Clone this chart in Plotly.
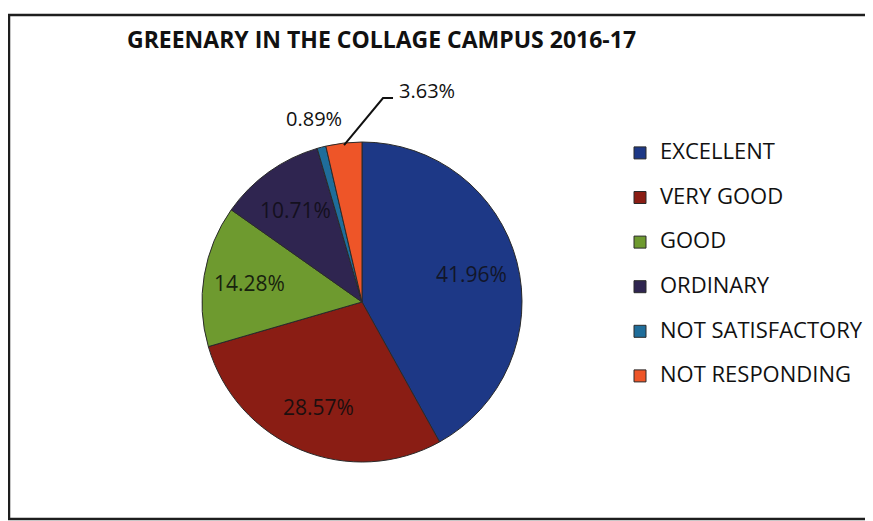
import math
import plotly.graph_objects as go

categories = ["EXCELLENT", "VERY GOOD", "GOOD", "ORDINARY", "NOT SATISFACTORY", "NOT RESPONDING"]
values = [41.96, 28.57, 14.28, 10.71, 0.89, 3.63]
colors = ["#1d3886", "#8a1d14", "#6e9a2f", "#2f2550", "#1f6d9a", "#ee5528"]
title_text = "GREENARY IN THE COLLAGE CAMPUS 2016-17"

W, H = 873, 521
# pie geometry in figure pixels (page has an 8px body margin)
cx, cy, r = 354, 294, 160

legend_labels = [f"<span style='font-size:22px'>{c}</span><br> " for c in categories]
slice_text = [f"{v:.2f}%" for v in values]
inside_colors = ["#121629", "#1c0f0f", "#18220e", "#14101e"]

fig = go.Figure(go.Pie(
    labels=legend_labels,
    values=values,
    textinfo="none",
    marker=dict(colors=colors, line=dict(color="#2a2a2a", width=1)),
    sort=False,
    direction="clockwise",
    rotation=0,
    domain=dict(x=[(cx - r) / W, (cx + r) / W], y=[(H - cy - r) / H, (H - cy + r) / H]),
    hoverinfo="skip",
))

total = sum(values)
def slice_point(i, rad):
    frac = (sum(values[:i]) + values[i] / 2) / total
    th = 2 * math.pi * frac
    return cx + rad * math.sin(th), cy - rad * math.cos(th)

def to_paper(px, py):
    return px / W, 1 - py / H

annotations = []
shapes = []

# data labels inside the four large slices, at ~0.71 of the radius on the mid-angle
for i in range(4):
    px, py = slice_point(i, r * 0.71)
    x_, y_ = to_paper(px, py)
    annotations.append(dict(x=x_, y=y_, xref="paper", yref="paper", text=slice_text[i],
                            showarrow=False, xanchor="center", yanchor="middle",
                            font=dict(family="Open Sans", size=21, color=inside_colors[i])))

# NOT SATISFACTORY: label placed radially outside
lx, ly = slice_point(4, r + 30)
x_, y_ = to_paper(lx, ly)
annotations.append(dict(x=x_, y=y_, xref="paper", yref="paper", text=slice_text[4],
                        showarrow=False, xanchor="center", yanchor="middle",
                        font=dict(family="Open Sans", size=20, color="#111111")))

# NOT RESPONDING: elbow leader line to label on the upper right
px0, py0 = slice_point(5, r - 2)
ex, ey = px0 + 39, py0 - 47
hx = ex + 10
p = [to_paper(px0, py0), to_paper(ex, ey), to_paper(hx, ey)]
shapes.append(dict(type="path", xref="paper", yref="paper",
                   path=f"M {p[0][0]} {p[0][1]} L {p[1][0]} {p[1][1]} L {p[2][0]} {p[2][1]}",
                   line=dict(color="#111111", width=2)))
tx, ty = to_paper(hx + 4, ey - 8)
annotations.append(dict(x=tx, y=ty, xref="paper", yref="paper", text=slice_text[5],
                        showarrow=False, xanchor="left", yanchor="middle",
                        font=dict(family="Open Sans", size=20, color="#111111")))

# chart frame
shapes.append(dict(type="rect", xref="paper", yref="paper", x0=1 / W, x1=1.02, y0=10 / H, y1=1 - 7 / H,
                   line=dict(color="#1e1e1e", width=2.5)))

fig.update_layout(
    width=W, height=H,
    margin=dict(l=0, r=0, t=0, b=0),
    paper_bgcolor="white",
    title=dict(text=title_text, x=119 / W, xanchor="left", y=1 - 32 / H, yanchor="middle",
               pad=dict(l=0, r=0, t=0, b=0),
               font=dict(family="Open Sans", size=23, color="#111111", weight="bold")),
    legend=dict(x=612 / W, xanchor="left", y=1 - 128 / H, yanchor="top",
                font=dict(family="Open Sans", size=16, color="#111111"),
                valign="top", bgcolor="rgba(0,0,0,0)"),
    showlegend=True,
    shapes=shapes,
    annotations=annotations,
)

fig.write_html("out.html")
